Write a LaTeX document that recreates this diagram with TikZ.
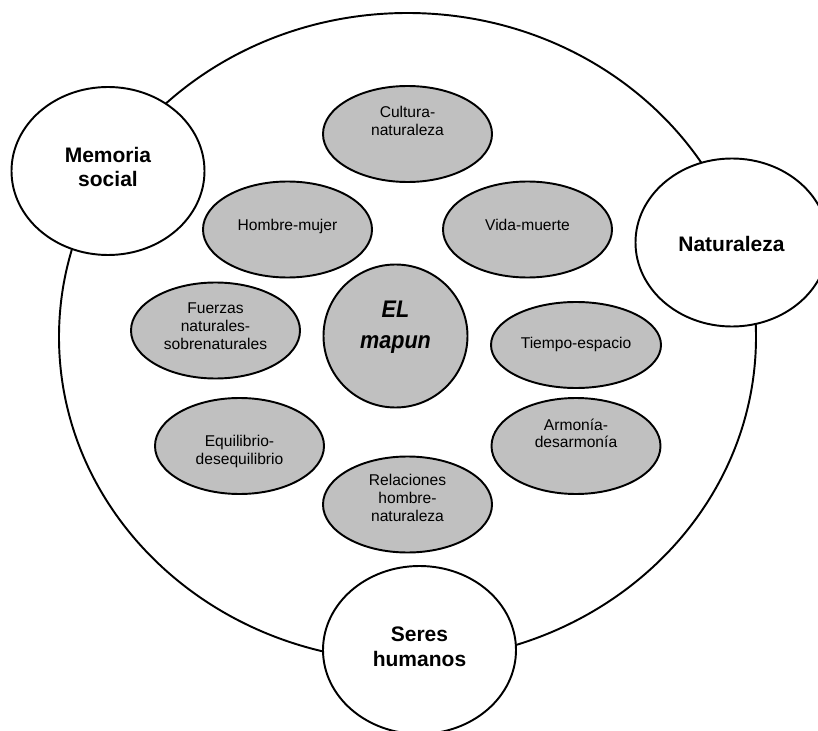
\documentclass[tikz,border=0pt]{standalone}
\usepackage{fontspec}
\setmainfont{Liberation Sans}
\newfontfamily\elfont[FakeStretch=0.9]{Liberation Sans}
\usetikzlibrary{shapes.geometric}
\newcommand{\mlines}[1]{\begin{tabular}[t]{@{}c@{}}#1\end{tabular}}
\definecolor{ovalgray}{RGB}{192,192,192}
\begin{document}
\begin{tikzpicture}[x=0.75pt,y=-0.75pt,
  outl/.style={ellipse, draw=black, line width=1.45pt, inner sep=0pt},
  bigring/.style={outl, minimum width=522.75pt, minimum height=486pt},
  topic/.style={outl, fill=white, minimum width=144.75pt, minimum height=126pt},
  pair/.style={outl, fill=ovalgray, minimum width=126.75pt, minimum height=72pt},
  core/.style={outl, fill=ovalgray, minimum width=108pt, minimum height=107.25pt},
  pairtxt/.style={anchor=base, inner sep=0pt, font=\fontsize{11.7}{13.4}\selectfont},
  topictxt/.style={anchor=base, inner sep=0pt, font=\fontsize{15.75}{18.5}\selectfont\bfseries},
  coretxt/.style={anchor=base, inner sep=0pt, font=\elfont\fontsize{18}{23.25}\selectfont\bfseries\itshape}]
\useasboundingbox (0,0) rectangle (818,731);
\clip (0,0) rectangle (818,731);
\fill[white] (0,0) rectangle (818,731);
% outer ring
\node[bigring] (ring) at (407.5,337) {};
% white topic circles
\node[topic] (mem) at (108,171) {};
\node[topic] (nat) at (732,242.5) {};
\node[topic] (ser) at (419.5,650) {};
\node[topictxt] (mem-t) at (108,162.3) {\mlines{Memoria\\social}};
\node[topictxt] (nat-t) at (731.5,251.7) {\mlines{Naturaleza}};
\node[topictxt, font=\fontsize{15.75}{18.75}\selectfont\bfseries] (ser-t) at (419.5,641.7) {\mlines{Seres\\humanos}};
% gray ovals
\node[pair] (cult) at (407.5,134) {};
\node[pair] (homb) at (287.5,229.5) {};
\node[pair] (vida) at (527.5,229.5) {};
\node[pair] (fuer) at (215.5,330.5) {};
\node[pair, minimum width=127.5pt, minimum height=64.5pt] (tiem) at (576,345) {};
\node[pair] (armo) at (576,446) {};
\node[pair] (equi) at (239.5,446) {};
\node[pair] (rela) at (407.5,504.5) {};
\node[core] (el) at (395.5,336) {};
\node[pairtxt] (cult-t) at (407.5,117.3) {\mlines{Cultura-\\naturaleza}};
\node[pairtxt] (homb-t) at (287.5,230.5) {\mlines{Hombre-mujer}};
\node[pairtxt] (vida-t) at (527.5,230.5) {\mlines{Vida-muerte}};
\node[pairtxt] (fuer-t) at (215.5,313.3) {\mlines{Fuerzas\\naturales-\\sobrenaturales}};
\node[pairtxt] (tiem-t) at (576,348.5) {\mlines{Tiempo-espacio}};
\node[pairtxt] (armo-t) at (576,430) {\mlines{Armonía-\\desarmonía}};
\node[pairtxt] (equi-t) at (239.5,446.7) {\mlines{Equilibrio-\\desequilibrio}};
\node[pairtxt] (rela-t) at (407.5,485.7) {\mlines{Relaciones\\hombre-\\naturaleza}};
\node[coretxt] (el-t) at (395.5,317) {\mlines{EL\\mapun}};
\end{tikzpicture}
\end{document}
